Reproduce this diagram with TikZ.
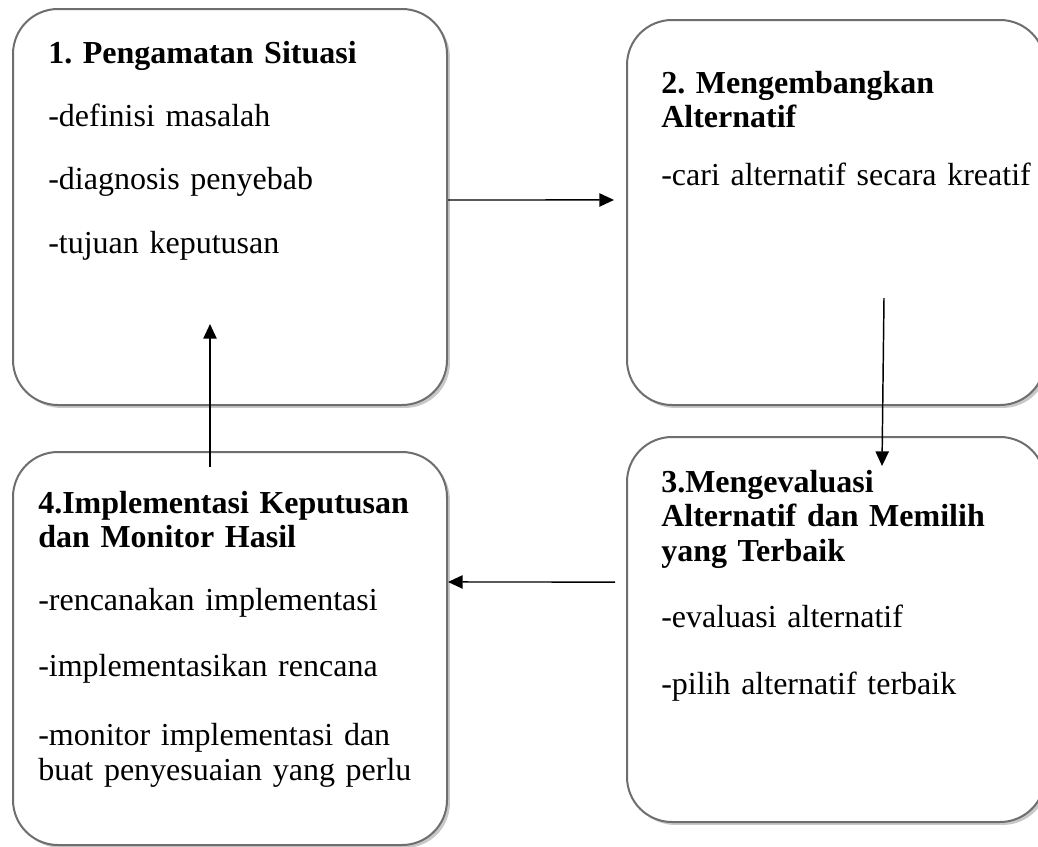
\documentclass[tikz,border=0pt]{standalone}
\usepackage{fontspec}
\setmainfont{Liberation Serif}
\usepackage{tikz}
\usetikzlibrary{arrows.meta,shadows}
\definecolor{CardGray}{HTML}{6E6E6E}
\definecolor{ShadowGray}{HTML}{C8C8C8}
\frenchspacing

\begin{document}
\begin{tikzpicture}[x=0.75pt,y=-0.75pt,
  box/.style={draw=CardGray,line width=1.5pt,rounded corners=33.75pt,fill=white,inner sep=0pt,
    drop shadow={shadow xshift=2.2pt,shadow yshift=-2.2pt,fill=ShadowGray,opacity=1}},
  txt/.style={anchor=base west,inner sep=0pt,text width=330pt,align=left,
    font=\fontsize{24}{26}\selectfont},
  arrow/.style={-{Triangle[length=11pt,width=10pt]},line width=1.1pt,color=black}
]
\useasboundingbox (0,0) rectangle (1038,846);
% kotak langkah
\node[box,minimum width=325.5pt,minimum height=297pt] (situasi) at (230,207) {};
\node[box,minimum width=313.5pt,minimum height=288.75pt] (alternatif) at (836,212.5) {};
\node[box,minimum width=313.5pt,minimum height=288.75pt] (evaluasi) at (836,629.5) {};
\node[box,minimum width=325.5pt,minimum height=294.75pt] (implementasi) at (230,648.5) {};
% isi kotak
\node[txt] (situasiText) at (48,63) {\textbf{1. Pengamatan Situasi}\\[21.25pt]
  -definisi masalah\\[21.25pt]
  -diagnosis penyebab\\[22pt]
  -tujuan keputusan};
\node[txt] (alternatifText) at (661,93) {\textbf{2. Mengembangkan}\\
  \textbf{Alternatif}\\[17.5pt]
  -cari alternatif secara kreatif};
\node[txt] (evaluasiText) at (661,492) {\textbf{3.Mengevaluasi}\\
  \textbf{Alternatif dan Memilih}\\
  \textbf{yang Terbaik}\\[23.5pt]
  -evaluasi alternatif\\[24pt]
  -pilih alternatif terbaik};
\node[txt] (implementasiText) at (38,513) {\textbf{4.Implementasi Keputusan}\\
  \textbf{dan Monitor Hasil}\\[21.25pt]
  -rencanakan implementasi\\[23.5pt]
  -implementasikan rencana\\[25.5pt]
  -monitor implementasi dan\\
  buat penyesuaian yang perlu};
% panah
\draw[arrow] ([yshift=5.25pt]situasi.east) -- ([xshift=-9pt,yshift=9.4pt]alternatif.west);
\draw[arrow] ([xshift=36pt,yshift=81pt]alternatif.south) -- ([xshift=34.5pt,yshift=-22.5pt]evaluasi.north);
\draw[arrow] ([xshift=-8.25pt,yshift=35.6pt]evaluasi.west) -- ([yshift=49.9pt]implementasi.east);
\draw[arrow] ([xshift=-15pt,yshift=-12pt]implementasi.north) -- ([xshift=-15pt,yshift=61.5pt]situasi.south);
\end{tikzpicture}
\end{document}
